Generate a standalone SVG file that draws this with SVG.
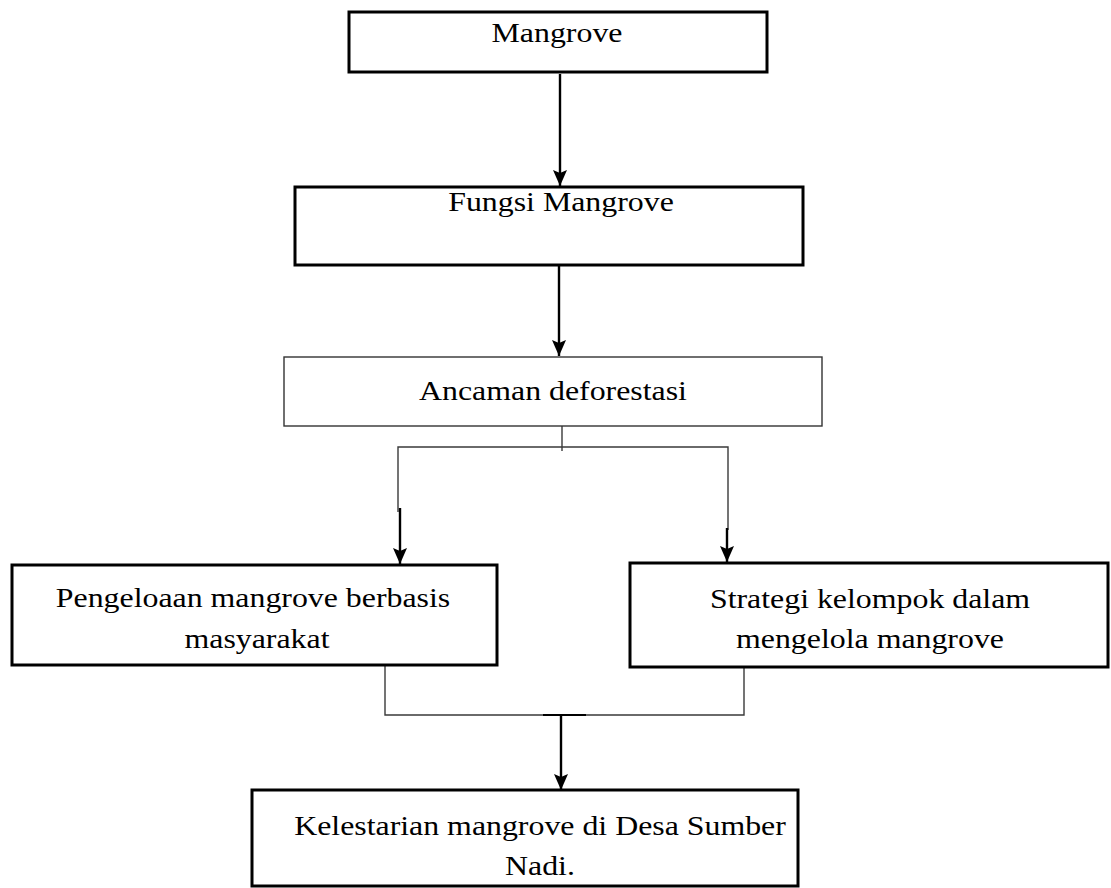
<svg xmlns="http://www.w3.org/2000/svg" width="1111" height="888" viewBox="0 0 1111 888">
<style>
.box{fill:#fff;stroke:#000;stroke-width:3}
.thinbox{fill:#fff;stroke:#333;stroke-width:1.4}
.t{font-family:"Liberation Serif","Times New Roman",serif;font-size:27px;fill:#000;text-anchor:middle}
.thin{fill:none;stroke:#3a3a3a;stroke-width:1.4}
.arr{fill:none;stroke:#000;stroke-width:2.4;marker-end:url(#ah)}
</style>
<defs>
<marker id="ah" markerUnits="userSpaceOnUse" markerWidth="16" markerHeight="14" refX="16" refY="7" orient="auto" viewBox="0 0 16 14">
<path d="M0,0 L16,7 L0,14 L3,7 Z" fill="#000"/>
</marker>
</defs>
<rect width="1111" height="888" fill="#fff"/>
<g id="connectors">
<line class="arr" x1="560" y1="74" x2="560" y2="186"/>
<line class="arr" x1="559" y1="266" x2="559" y2="356"/>
<line class="thin" x1="562" y1="426" x2="562" y2="451"/>
<polyline class="thin" points="398,512 398,447 728,447 728,530"/>
<line class="arr" x1="400" y1="508" x2="400" y2="564"/>
<line class="arr" x1="727" y1="528" x2="727" y2="562"/>
<polyline class="thin" points="385,666 385,715 744,715 744,667"/>
<line x1="543" y1="715" x2="586" y2="715" stroke="#000" stroke-width="2"/>
<line class="arr" x1="561" y1="715" x2="561" y2="790"/>
</g>
<g id="n1">
<rect class="box" x="349" y="12" width="418" height="60"/>
<text class="t" transform="matrix(1.18 0 0 1 557 42)">Mangrove</text>
</g>
<g id="n2">
<rect class="box" x="295" y="187" width="508" height="78"/>
<text class="t" transform="matrix(1.18 0 0 1 561 211)">Fungsi Mangrove</text>
</g>
<g id="n3">
<rect class="thinbox" x="284" y="357" width="538" height="69"/>
<text class="t" transform="matrix(1.18 0 0 1 553 400)">Ancaman deforestasi</text>
</g>
<g id="n4">
<rect class="box" x="12" y="565" width="485" height="100"/>
<text class="t" transform="matrix(1.18 0 0 1 253 607)">Pengeloaan mangrove berbasis</text>
<text class="t" transform="matrix(1.18 0 0 1 257 648)">masyarakat</text>
</g>
<g id="n5">
<rect class="box" x="630" y="563" width="478" height="104"/>
<text class="t" transform="matrix(1.18 0 0 1 870 608)">Strategi kelompok dalam</text>
<text class="t" transform="matrix(1.18 0 0 1 870 648)">mengelola mangrove</text>
</g>
<g id="n6">
<rect class="box" x="252" y="790" width="546" height="96"/>
<text class="t" transform="matrix(1.18 0 0 1 540 835)">Kelestarian mangrove di Desa Sumber</text>
<text class="t" transform="matrix(1.18 0 0 1 540 875)">Nadi.</text>
</g>
</svg>
